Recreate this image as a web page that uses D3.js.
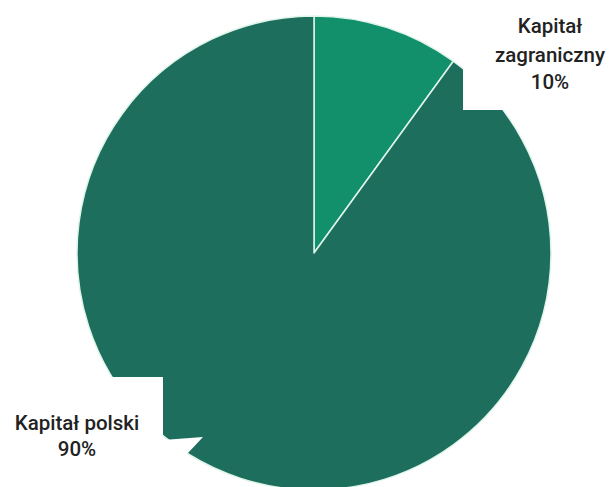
<!DOCTYPE html>
<html>
<head>
<meta charset="utf-8">
<script src="https://cdn.jsdelivr.net/npm/d3@7"></script>
<style>
  html, body { margin: 0; padding: 0; background: #ffffff; }
  svg { display: block; }
</style>
</head>
<body>
<svg id="chart" width="614" height="487"></svg>
<script>
const categories = ["Kapitał zagraniczny", "Kapitał polski"];
const values = [10, 90];
const percentLabels = ["10%", "90%"];
const colors = ["#12906b", "#1e6e5e"];

const width = 614, height = 487;
const cx = 314, cy = 253, radius = 237;

const svg = d3.select("#chart");

const pie = d3.pie().sort(null).value(d => d.value).startAngle(0).endAngle(2 * Math.PI);
const arcs = pie(categories.map((c, i) => ({ name: c, value: values[i] })));
const arc = d3.arc().innerRadius(0).outerRadius(radius);
const color = d3.scaleOrdinal().domain(categories).range(colors);

const g = svg.append("g").attr("transform", `translate(${cx},${cy})`);
g.selectAll("path.slice")
  .data(arcs)
  .join("path")
  .attr("class", "slice")
  .attr("d", arc)
  .attr("fill", d => color(d.data.name))
  .attr("stroke", "#dff5ea")
  .attr("stroke-width", 1.5)
  .attr("stroke-linejoin", "round");

// label boxes (white callouts overlapping the pie)
svg.append("rect")
  .attr("x", 463).attr("y", 0)
  .attr("width", width - 463).attr("height", 110)
  .attr("fill", "#ffffff");

svg.append("path")
  .attr("d", "M0,377 L163,377 L163,440 L203,437 L172,470 L163,487 L0,487 Z")
  .attr("fill", "#ffffff");

const font = "Roboto, 'Noto Sans', sans-serif";

const topLabel = svg.append("text")
  .attr("text-anchor", "middle")
  .attr("font-family", font)
  .attr("font-weight", 500)
  .attr("font-size", 20.5)
  .attr("fill", "#222222");
const topLines = ["Kapitał", "zagraniczny", percentLabels[0]];
const topBase = [33, 62, 89];
topLines.forEach((t, i) => {
  topLabel.append("tspan").attr("x", 550).attr("y", topBase[i]).text(t);
});

const botLabel = svg.append("text")
  .attr("text-anchor", "middle")
  .attr("font-family", font)
  .attr("font-weight", 500)
  .attr("font-size", 20.5)
  .attr("fill", "#222222");
const botLines = ["Kapitał polski", percentLabels[1]];
const botBase = [430, 456];
botLines.forEach((t, i) => {
  botLabel.append("tspan").attr("x", 77).attr("y", botBase[i]).text(t);
});
</script>
</body>
</html>
